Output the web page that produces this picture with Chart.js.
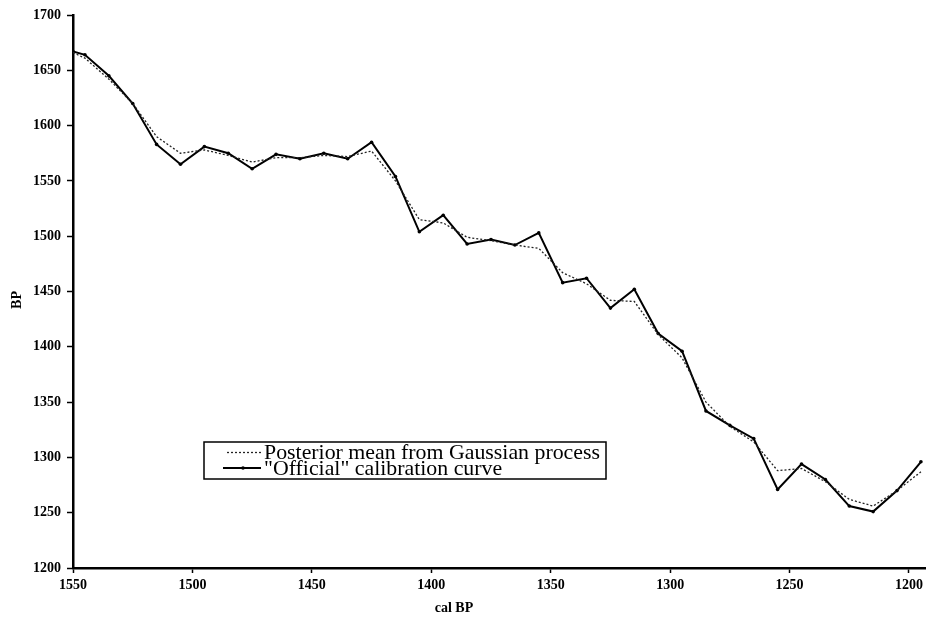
<!DOCTYPE html>
<html>
<head>
<meta charset="utf-8">
<script src="https://cdn.jsdelivr.net/npm/chart.js@4"></script>
<style>
  html, body { margin: 0; padding: 0; background: #fff; }
  #wrap { width: 929px; height: 623px; position: relative; }
</style>
</head>
<body>
<div id="wrap"><canvas id="c" width="929" height="623"></canvas></div>
<script>
// Calibrated age (cal BP) at each sample
const calBP = [1550, 1545, 1535, 1525, 1515, 1505, 1495, 1485, 1475, 1465,
               1455, 1445, 1435, 1425, 1415, 1405, 1395, 1385, 1375, 1365,
               1355, 1345, 1335, 1325, 1315, 1305, 1295, 1285, 1275, 1265,
               1255, 1245, 1235, 1225, 1215, 1205, 1195];

// Posterior mean of the Gaussian process fit (BP)
const posteriorMean = [1666, 1661, 1642, 1620, 1590, 1575, 1578, 1573, 1567, 1571,
                       1571, 1573, 1572, 1577, 1550, 1515, 1512, 1499, 1496, 1492,
                       1489, 1467, 1457, 1442, 1441, 1411, 1390, 1350, 1328, 1314,
                       1288, 1290, 1278, 1262, 1256, 1270, 1287];

// "Official" calibration curve (BP)
const officialCurve = [1667, 1664, 1645, 1620, 1583, 1565, 1581, 1575, 1561, 1574,
                       1570, 1575, 1570, 1585, 1554, 1504, 1519, 1493, 1497, 1492,
                       1503, 1458, 1462, 1435, 1452, 1412, 1396, 1342, 1329, 1317,
                       1271, 1294, 1280, 1256, 1251, 1270, 1296];

const xTicks = [1550, 1500, 1450, 1400, 1350, 1300, 1250, 1200];
const yTicks = [1200, 1250, 1300, 1350, 1400, 1450, 1500, 1550, 1600, 1650, 1700];

const seriesNames = ['Posterior mean from Gaussian process', '"Official" calibration curve'];
const xTitle = 'cal BP';
const yTitle = 'BP';

const serif = '"Liberation Serif", "DejaVu Serif", serif';

const toXY = (ys) => calBP.map((x, i) => ({ x: x, y: ys[i] }));

// Axis titles and the boxed legend, drawn on top of the plot
const annotations = {
  id: 'annotations',
  afterDraw(chart) {
    const ctx = chart.ctx;
    ctx.save();
    ctx.fillStyle = '#000';

    // axis titles
    ctx.font = 'bold 14px ' + serif;
    ctx.textAlign = 'center';
    ctx.textBaseline = 'middle';
    ctx.fillText(xTitle, 454, 608);
    ctx.save();
    ctx.translate(17, 300);
    ctx.rotate(-Math.PI / 2);
    ctx.fillText(yTitle, 0, 0);
    ctx.restore();

    // legend box
    const bx = 204, by = 442, bw = 402, bh = 37;
    ctx.lineWidth = 1.5;
    ctx.strokeStyle = '#000';
    ctx.strokeRect(bx, by, bw, bh);

    const ds = chart.data.datasets;
    const rows = [452.5, 468];
    ctx.font = '21px ' + serif;
    ctx.textAlign = 'left';
    ctx.textBaseline = 'middle';
    // one horizontal squeeze for both labels, so the first fills the box
    const squeeze = 336 / ctx.measureText(ds[0].label).width;
    rows.forEach((ry, i) => {
      const d = ds[i];
      ctx.beginPath();
      ctx.setLineDash(d.borderDash || []);
      ctx.lineWidth = d.borderWidth;
      ctx.strokeStyle = d.borderColor;
      ctx.moveTo(i === 0 ? 227 : 223, ry);
      ctx.lineTo(261, ry);
      ctx.stroke();
      ctx.setLineDash([]);
      if (d.pointRadius > 0) {
        ctx.beginPath();
        ctx.arc(243, ry, d.pointRadius, 0, Math.PI * 2);
        ctx.fillStyle = d.pointBackgroundColor;
        ctx.fill();
      }
      ctx.fillStyle = '#000';
      ctx.save();
      ctx.translate(264, ry + 1);
      ctx.scale(squeeze, 1);
      ctx.fillText(d.label, 0, 0);
      ctx.restore();
    });
    ctx.restore();
  }
};

new Chart(document.getElementById('c'), {
  type: 'line',
  data: {
    datasets: [
      {
        label: seriesNames[0],
        data: toXY(posteriorMean),
        borderColor: '#222',
        borderWidth: 1.3,
        borderDash: [2, 2],
        pointRadius: 0,
        fill: false,
        tension: 0
      },
      {
        label: seriesNames[1],
        data: toXY(officialCurve),
        borderColor: '#000',
        borderWidth: 2,
        pointRadius: 1.8,
        pointBackgroundColor: '#000',
        pointBorderWidth: 0,
        fill: false,
        tension: 0
      }
    ]
  },
  options: {
    responsive: false,
    animation: false,
    devicePixelRatio: 1,
    layout: { padding: { top: 15, right: 0, left: 0, bottom: 0 } },
    plugins: {
      legend: { display: false },
      tooltip: { enabled: false }
    },
    scales: {
      x: {
        type: 'linear',
        reverse: true,
        min: 1193.3,
        max: 1550,
        afterBuildTicks: (s) => { s.ticks = xTicks.map(v => ({ value: v })); },
        afterFit: (s) => { s.height = 55; },
        grid: {
          display: true,
          drawOnChartArea: false,
          drawTicks: true,
          tickLength: 5,
          tickWidth: 1.5,
          tickColor: '#000'
        },
        border: { display: true, color: '#000', width: 2.5 },
        ticks: {
          color: '#000',
          padding: 4,
          maxRotation: 0,
          autoSkip: false,
          callback: (v) => String(v),
          font: { family: serif, size: 14, weight: 'bold' }
        }
      },
      y: {
        type: 'linear',
        min: 1200,
        max: 1700,
        afterBuildTicks: (s) => { s.ticks = yTicks.map(v => ({ value: v })); },
        afterFit: (s) => { s.width = 73; },
        grid: {
          display: true,
          drawOnChartArea: false,
          drawTicks: true,
          tickLength: 6,
          tickWidth: 1.5,
          tickColor: '#000'
        },
        border: { display: true, color: '#000', width: 2.5 },
        ticks: {
          color: '#000',
          padding: 6,
          autoSkip: false,
          callback: (v) => String(v),
          font: { family: serif, size: 14, weight: 'bold' }
        }
      }
    }
  },
  plugins: [annotations]
});
</script>
</body>
</html>
